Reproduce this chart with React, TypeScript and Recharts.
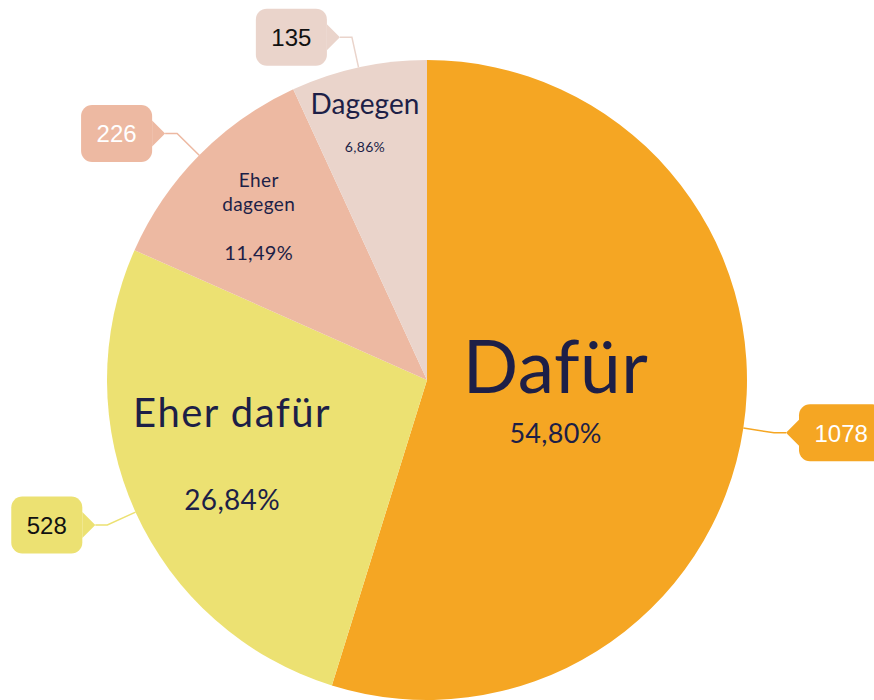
import React from "react";
import { Cell, Pie, PieChart } from "recharts";

const categories = ["Dafür", "Eher dafür", "Eher dagegen", "Dagegen"];
const counts = [1078, 528, 226, 135];

const colors = ["#F5A623", "#ECE172", "#EDB9A2", "#EAD4CB"];
const boxText = ["#FFFFFF", "#111111", "#FFFFFF", "#111111"];
const ink = "#1D1F47";

// inside label layout per slice: anchor radius, x shift, name size/baselines/spacing, percent size/baseline
const labelLayout = [
  { r: 130, dx: 0, nameSize: 73, nameY: [-7], nameLs: 0.5, pctSize: 27, pctY: 43 },
  { r: 214, dx: 0, nameSize: 40, nameY: [-41], nameLs: 1.5, pctSize: 28, pctY: 42 },
  { r: 235, dx: -1, nameSize: 19, nameY: [-28, -4], nameLs: 0.4, pctSize: 20, pctY: 45 },
  { r: 262, dx: -6, nameSize: 28, nameY: [-10], nameLs: 0, pctSize: 14, pctY: 28 },
];

const data = categories.map((name, i) => ({ name, value: counts[i] }));
const total = counts.reduce((a, b) => a + b, 0);
const RADIAN = Math.PI / 180;

const pctText = (v: number) => ((v / total) * 100).toFixed(2).replace(".", ",") + "%";

function renderLabel(props: any) {
  const { cx, cy, midAngle, outerRadius, index, value, name } = props;
  const cos = Math.cos(-midAngle * RADIAN);
  const sin = Math.sin(-midAngle * RADIAN);
  const lay = labelLayout[index];
  const ax = cx + lay.r * cos + lay.dx;
  const ay = cy + lay.r * sin;

  // name wraps onto as many lines as there are baselines
  const words = String(name).split(" ");
  const nameLines = lay.nameY.length > 1 ? words : [String(name)];

  // callout
  const x0 = cx + outerRadius * cos;
  const y0 = cy + outerRadius * sin;
  const x1 = cx + (outerRadius + 31) * cos;
  const y1 = cy + (outerRadius + 31) * sin;
  const side = cos >= 0 ? 1 : -1;
  const tipX = x1 + side * 12;
  const edgeX = tipX + side * 13;
  const txt = String(value);
  const w = txt.length * 13.35 + 31;
  const h = 57;
  const boxX = side > 0 ? edgeX : edgeX - w;
  const color = colors[index];

  return (
    <g>
      {nameLines.map((ln, k) => (
        <text
          key={k}
          x={ax}
          y={ay + lay.nameY[k]}
          textAnchor="middle"
          fill={ink}
          fontSize={lay.nameSize}
          letterSpacing={lay.nameLs}
          fontFamily="Lato, sans-serif"
        >
          {ln}
        </text>
      ))}
      <text
        x={ax}
        y={ay + lay.pctY}
        textAnchor="middle"
        fill={ink}
        fontSize={lay.pctSize}
        letterSpacing={0.3}
        fontFamily="Lato, sans-serif"
      >
        {pctText(value)}
      </text>
      <polyline points={`${x0},${y0} ${x1},${y1} ${tipX},${y1}`} fill="none" stroke={color} strokeWidth={1.5} />
      <rect x={boxX} y={y1 - h / 2} width={w} height={h} rx={11} fill={color} />
      <polygon points={`${tipX},${y1} ${edgeX},${y1 - 13} ${edgeX},${y1 + 13}`} fill={color} />
      <text
        x={boxX + w / 2}
        y={y1 + 9}
        textAnchor="middle"
        fill={boxText[index]}
        fontSize={24}
        fontFamily="'Liberation Sans', Arial, sans-serif"
      >
        {txt}
      </text>
    </g>
  );
}

export default function App() {
  return (
    <div style={{ position: "absolute", left: 0, top: 0, width: 874, height: 700, overflow: "hidden", background: "#fff" }}>
      <PieChart width={874} height={700} margin={{ top: 0, right: 0, bottom: 0, left: 0 }}>
        <Pie
          data={data}
          dataKey="value"
          nameKey="name"
          cx={427}
          cy={380}
          outerRadius={320}
          startAngle={90}
          endAngle={-270}
          stroke="none"
          labelLine={false}
          label={renderLabel}
          isAnimationActive={false}
        >
          {data.map((d, i) => (
            <Cell key={d.name} fill={colors[i]} />
          ))}
        </Pie>
      </PieChart>
    </div>
  );
}
